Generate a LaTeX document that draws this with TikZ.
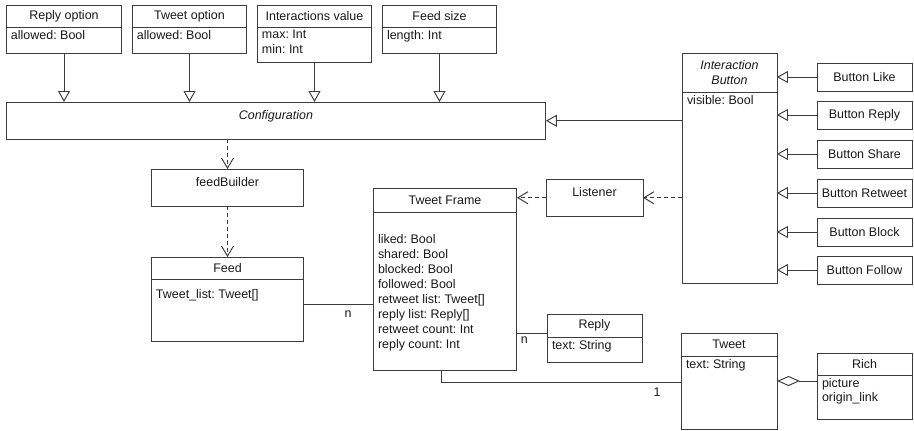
\documentclass[tikz,border=0pt]{standalone}
\usepackage{fontspec}
\setmainfont{Liberation Sans}
\usepackage{tikz}
\usetikzlibrary{positioning, arrows.meta}
\frenchspacing
\definecolor{LineGray}{RGB}{60,60,60}
\definecolor{InkBlack}{RGB}{25,25,25}
\newcommand{\attrs}[3]{\parbox[t][\dimexpr#2-0.12cm\relax][t]{\dimexpr#1-0.2cm\relax}{\raggedright #3}}
\tikzset{
  umlfont/.style={font=\fontsize{7.1}{8.5}\selectfont, text=InkBlack},
  head/.style={draw=LineGray, line width=0.55pt, outer sep=0pt, inner sep=0pt, align=center, umlfont},
  comp/.style={draw=LineGray, line width=0.55pt, outer sep=0pt, inner xsep=0.1cm, inner ysep=0.06cm, umlfont},
  lone/.style={draw=LineGray, line width=0.55pt, outer sep=0pt, inner xsep=0pt, inner ysep=0.1cm,
    text height=0.25cm, text depth=0.3cm, umlfont},
  conn/.style={draw=LineGray, line width=0.55pt},
  inherit/.style={conn, -{Triangle[open, length=0.22cm, width=0.24cm]}},
  depend/.style={conn, dash pattern=on 0.08cm off 0.06cm, -{Straight Barb[length=0.2cm, width=0.24cm]}},
  aggr/.style={conn, {Diamond[open, length=0.46cm, width=0.2cm]}-},
}

\begin{document}
\begin{tikzpicture}[x=0.02cm, y=-0.02cm]
  \useasboundingbox (0,0) rectangle (914,430);

  % option classes on top
  \node[head, anchor=north west, minimum width=2.32cm, minimum height=0.44cm] (replyopt) at (6,5) {Reply option};
  \node[comp, below=0pt of replyopt] (replyoptb) {\attrs{2.32cm}{0.52cm}{allowed: Bool}};
  \node[head, anchor=north west, minimum width=2.3cm, minimum height=0.44cm] (tweetopt) at (132,5) {Tweet option};
  \node[comp, below=0pt of tweetopt] (tweetoptb) {\attrs{2.3cm}{0.52cm}{allowed: Bool}};
  \node[head, anchor=north west, minimum width=2.3cm, minimum height=0.44cm] (interval) at (257,5) {Interactions value};
  \node[comp, below=0pt of interval] (intervalb) {\attrs{2.3cm}{0.7cm}{max: Int\\min: Int}};
  \node[head, anchor=north west, minimum width=2.3cm, minimum height=0.44cm] (feedsize) at (382,5) {Feed size};
  \node[comp, below=0pt of feedsize] (feedsizeb) {\attrs{2.3cm}{0.52cm}{length: Int}};

  \node[lone, anchor=north west, minimum width=10.8cm] (config) at (6,102) {\itshape Configuration};

  \draw[inherit] (replyoptb.south) -- (replyoptb.south |- config.north);
  \draw[inherit] (tweetoptb.south) -- (tweetoptb.south |- config.north);
  \draw[inherit] (intervalb.south) -- (intervalb.south |- config.north);
  \draw[inherit] (feedsizeb.south) -- (feedsizeb.south |- config.north);

  % interaction buttons
  \node[head, anchor=north west, minimum width=1.9cm, minimum height=0.78cm] (ibutton) at (682,53) {\itshape Interaction\\\itshape Button};
  \node[comp, below=0pt of ibutton] (ibuttonb) {\attrs{1.9cm}{3.84cm}{visible: Bool}};
  \draw[inherit] (config.east -| ibuttonb.west) -- (config.east);

  \node[head, anchor=north west, minimum width=1.9cm, minimum height=0.56cm] (blike) at (817,63) {Button Like};
  \node[head, anchor=north west, minimum width=1.9cm, minimum height=0.56cm] (breply) at (817,101) {Button Reply};
  \node[head, anchor=north west, minimum width=1.9cm, minimum height=0.56cm] (bshare) at (817,140) {Button Share};
  \node[head, anchor=north west, minimum width=1.9cm, minimum height=0.56cm] (bretweet) at (817,179) {Button Retweet};
  \node[head, anchor=north west, minimum width=1.9cm, minimum height=0.56cm] (bblock) at (817,218) {Button Block};
  \node[head, anchor=north west, minimum width=1.9cm, minimum height=0.56cm] (bfollow) at (817,256) {Button Follow};
  \draw[inherit] (blike.west) -- (blike.west -| ibuttonb.east);
  \draw[inherit] (breply.west) -- (breply.west -| ibuttonb.east);
  \draw[inherit] (bshare.west) -- (bshare.west -| ibuttonb.east);
  \draw[inherit] (bretweet.west) -- (bretweet.west -| ibuttonb.east);
  \draw[inherit] (bblock.west) -- (bblock.west -| ibuttonb.east);
  \draw[inherit] (bfollow.west) -- (bfollow.west -| ibuttonb.east);

  % feed
  \node[lone, anchor=north west, minimum width=3.06cm] (fbuilder) at (151,169) {feedBuilder};
  \node[head, anchor=north west, minimum width=3.06cm, minimum height=0.44cm] (feed) at (151,257) {Feed};
  \node[comp, below=0pt of feed] (feedb) {\attrs{3.06cm}{1.24cm}{\rule{0pt}{0.34cm}Tweet\_list: Tweet[]}};
  \draw[depend] (config.south -| fbuilder.north) -- (fbuilder.north);
  \draw[depend] (fbuilder.south) -- (feed.north);

  % tweet frame and its parts
  \node[head, anchor=north west, minimum width=2.88cm, minimum height=0.48cm] (tframe) at (373,188) {Tweet Frame};
  \node[comp, below=0pt of tframe] (tframeb) {\attrs{2.88cm}{3.18cm}{\rule{0pt}{0.57cm}liked: Bool\\shared: Bool\\blocked: Bool\\followed: Bool\\retweet list: Tweet[]\\reply list: Reply[]\\retweet count: Int\\reply count: Int}};
  \node[lone, anchor=north west, minimum width=1.94cm] (listener) at (546,179) {Listener};
  \draw[depend] (listener.west) -- (listener.west -| tframe.east);
  \draw[depend] (listener.east -| ibuttonb.west) -- (listener.east);
  \draw[conn] ([yshift=0.12cm]feedb.east) -- node[pos=0.64, below, umlfont] {n} ([yshift=0.12cm]feedb.east -| tframeb.west);

  \node[head, anchor=north west, minimum width=1.9cm, minimum height=0.46cm] (reply) at (547,314) {Reply};
  \node[comp, below=0pt of reply] (replyb) {\attrs{1.9cm}{0.5cm}{text: String}};
  \draw[conn] ([yshift=0.08cm]reply.south west -| tframeb.east) node[anchor=north west, inner sep=2pt, umlfont] {n} -- ([yshift=0.08cm]reply.south west);

  \node[head, anchor=north west, minimum width=1.92cm, minimum height=0.46cm] (tweet) at (681,333) {Tweet};
  \node[comp, below=0pt of tweet] (tweetb) {\attrs{1.92cm}{1.46cm}{text: String}};
  \draw[conn] ([xshift=-0.08cm]tframeb.south) |- node[pos=0.95, below, umlfont] {1} ([yshift=0.21cm]tweetb.west);

  \node[head, anchor=north west, minimum width=1.9cm, minimum height=0.44cm] (rich) at (817,353) {Rich};
  \node[comp, below=0pt of rich] (richb) {\attrs{1.9cm}{0.88cm}{picture\\origin\_link}};
  \draw[aggr] ([yshift=0.23cm]tweetb.east) -- ([yshift=0.23cm]tweetb.east -| richb.west);
\end{tikzpicture}
\end{document}
